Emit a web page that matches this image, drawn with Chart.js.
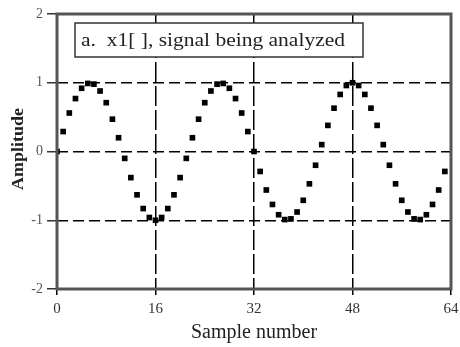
<!DOCTYPE html>
<html>
<head>
<meta charset="utf-8">
<script src="https://cdn.jsdelivr.net/npm/chart.js@4"></script>
<style>
  html, body { margin: 0; padding: 0; background: #fff; }
  #wrap { width: 460px; height: 347px; position: relative; }
</style>
</head>
<body>
<div id="wrap"><canvas id="sigChart"></canvas></div>
<script>
/* Data */
const samples = [0, 1, 2, 3, 4, 5, 6, 7, 8, 9, 10, 11, 12, 13, 14, 15,
  16, 17, 18, 19, 20, 21, 22, 23, 24, 25, 26, 27, 28, 29, 30, 31,
  32, 33, 34, 35, 36, 37, 38, 39, 40, 41, 42, 43, 44, 45, 46, 47,
  48, 49, 50, 51, 52, 53, 54, 55, 56, 57, 58, 59, 60, 61, 62, 63];
const amplitude = [0, 0.29, 0.56, 0.77, 0.92, 0.99, 0.98, 0.88, 0.71, 0.47, 0.2, -0.1, -0.38, -0.63, -0.83, -0.96,
  -1, -0.96, -0.83, -0.63, -0.38, -0.1, 0.2, 0.47, 0.71, 0.88, 0.98, 0.99, 0.92, 0.77, 0.56, 0.29,
  0, -0.29, -0.56, -0.77, -0.92, -0.99, -0.98, -0.88, -0.71, -0.47, -0.2, 0.1, 0.38, 0.63, 0.83, 0.96,
  1, 0.96, 0.83, 0.63, 0.38, 0.1, -0.2, -0.47, -0.71, -0.88, -0.98, -0.99, -0.92, -0.77, -0.56, -0.29];
const xTicks = [0, 16, 32, 48, 64];
const yTicks = [-2, -1, 0, 1, 2];
const boxLabel = 'a.  x1[ ], signal being analyzed';
const yTitle = 'Amplitude';

const serif = '"Liberation Serif", "DejaVu Serif", serif';

// draw text squeezed/stretched to a given width
function fitText(ctx, txt, x, y, w) {
  const m = ctx.measureText(txt).width;
  ctx.save();
  ctx.translate(x, y);
  ctx.scale(w / m, 1);
  ctx.fillText(txt, 0, 0);
  ctx.restore();
}

/* Frame, label box, y title */
const framePlugin = {
  id: 'frame',
  afterDraw(chart) {
    const ctx = chart.ctx, a = chart.chartArea;
    ctx.save();
    ctx.strokeStyle = '#555';
    ctx.lineWidth = 3;
    ctx.strokeRect(a.left, a.top, a.right - a.left, a.bottom - a.top);

    // y title, rotated
    ctx.translate(19, 149);
    ctx.rotate(-Math.PI / 2);
    ctx.fillStyle = '#222';
    ctx.font = 'bold 16px ' + serif;
    ctx.textBaseline = 'middle';
    fitText(ctx, yTitle, -41, 0, 82);
    ctx.restore();
  },
  afterDatasetsDraw(chart) {
    const ctx = chart.ctx;
    ctx.save();
    ctx.fillStyle = '#fff';
    ctx.fillRect(75, 23, 288, 34);
    ctx.strokeStyle = '#333';
    ctx.lineWidth = 1.5;
    ctx.strokeRect(75, 23, 288, 34);
    ctx.fillStyle = '#222';
    ctx.font = '19px ' + serif;
    ctx.textBaseline = 'alphabetic';
    fitText(ctx, boxLabel, 81, 46, 264);
    ctx.restore();
  }
};

const tickSet = (vals) => (scale) => { scale.ticks = vals.map(v => ({value: v})); };
const isEdge = (ctx, lo, hi) => ctx.tick && (ctx.tick.value === lo || ctx.tick.value === hi);

new Chart(document.getElementById('sigChart'), {
  type: 'scatter',
  data: {
    datasets: [{
      data: samples.map((s, i) => ({x: s, y: amplitude[i]})),
      pointStyle: 'rect',
      pointRadius: 4,
      pointBackgroundColor: '#000',
      pointBorderWidth: 0,
      showLine: false
    }]
  },
  options: {
    responsive: true,
    maintainAspectRatio: false,
    animation: false,
    layout: {padding: {left: 0, top: 14, right: 9, bottom: 0}},
    plugins: {legend: {display: false}, tooltip: {enabled: false}},
    scales: {
      x: {
        type: 'linear', min: 0, max: 64,
        afterBuildTicks: tickSet(xTicks),
        afterFit: (s) => { s.height = 58; s.paddingRight = 0; s.paddingLeft = 0; },
        grid: {
          color: (c) => isEdge(c, 0, 64) ? 'rgba(0,0,0,0)' : '#000',
          lineWidth: 1.5,
          tickColor: '#000',
          tickLength: 6
        },
        border: {display: false, dash: [20, 4]},
        ticks: {color: '#333', font: {family: serif, size: 15}, padding: 5, maxRotation: 0},
        title: {display: true, text: 'Sample number', color: '#222',
                font: {family: serif, size: 20}, padding: {top: 0, bottom: 2}}
      },
      y: {
        type: 'linear', min: -2, max: 2,
        afterBuildTicks: tickSet(yTicks),
        afterFit: (s) => { s.width = 57; s.paddingTop = 0; s.paddingBottom = 0; },
        grid: {
          color: (c) => isEdge(c, -2, 2) ? 'rgba(0,0,0,0)' : '#000',
          lineWidth: 1.5,
          tickColor: '#333',
          tickLength: 10
        },
        border: {display: false, dash: [11, 5]},
        ticks: {color: '#555', font: {family: serif, size: 14}, padding: 4,
                callback: (v) => String(v)}
      }
    }
  },
  plugins: [framePlugin]
});
</script>
</body>
</html>
